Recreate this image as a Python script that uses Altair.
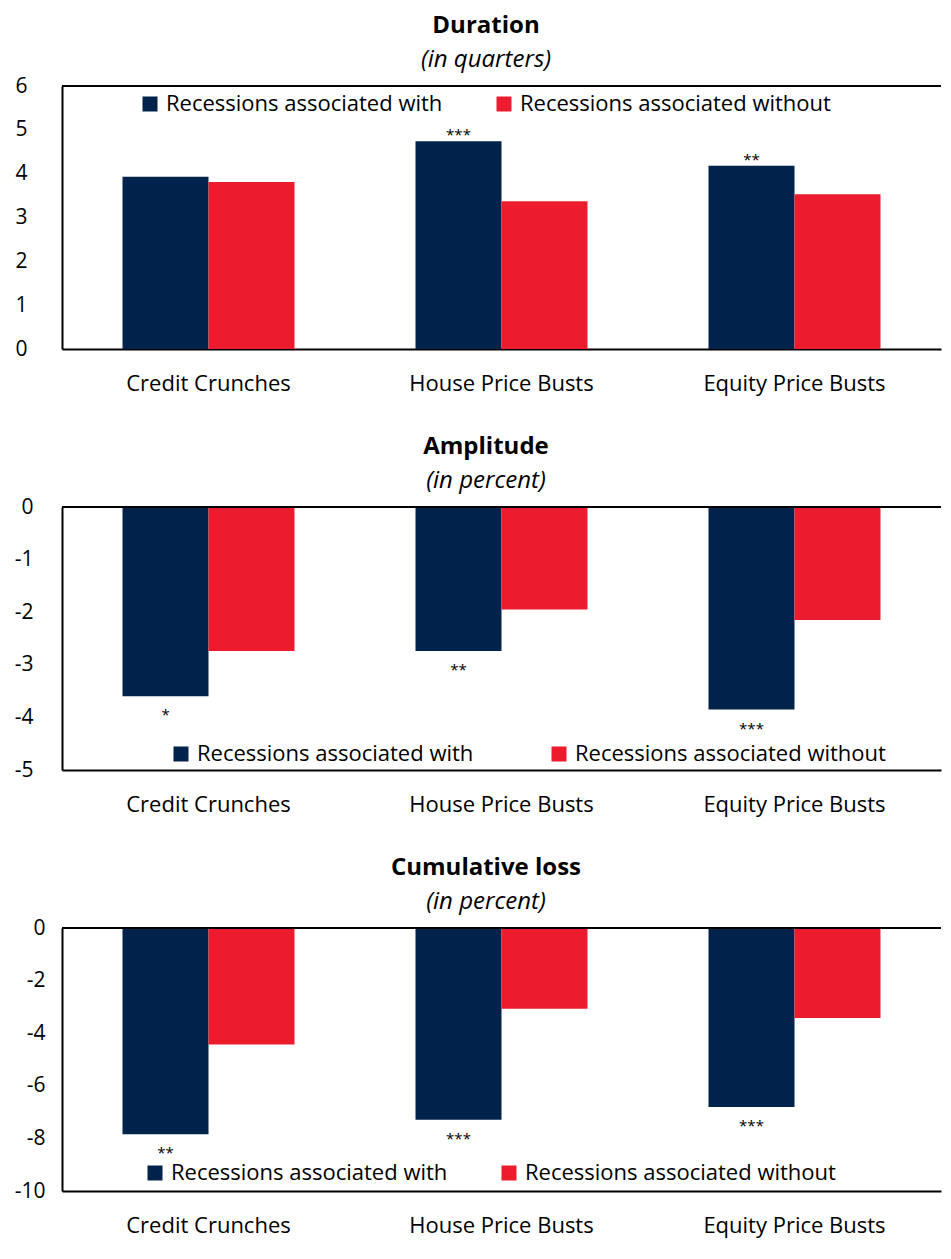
import altair as alt
import pandas as pd

FONT = "Open Sans"
NAVY = "#01224A"
RED = "#EC1C2E"

categories = ["Credit Crunches", "House Price Busts", "Equity Price Busts"]
series = ["Recessions associated with", "Recessions associated without"]

duration_with = [3.93, 4.74, 4.18]
duration_without = [3.81, 3.37, 3.53]
duration_stars = ["", "***", "**"]

amplitude_with = [-3.60, -2.74, -3.85]
amplitude_without = [-2.74, -1.95, -2.15]
amplitude_stars = ["*", "**", "***"]

cumloss_with = [-7.84, -7.29, -6.81]
cumloss_without = [-4.43, -3.07, -3.42]
cumloss_stars = ["**", "***", "***"]

duration_ticks = [0, 1, 2, 3, 4, 5, 6]
amplitude_ticks = [0, -1, -2, -3, -4, -5]
cumloss_ticks = [0, -2, -4, -6, -8, -10]

W = 879
H = 263
EXT = 54


def panel(title, subtitle, w_vals, wo_vals, stars, ydom, yticks, ylabpad,
          lx, ly, colpad, star_dy):
    df = pd.DataFrame({
        "category": categories * 2,
        "series": [series[0]] * 3 + [series[1]] * 3,
        "value": w_vals + wo_vals,
    })
    sdf = pd.DataFrame({
        "category": categories,
        "series": [series[0]] * 3,
        "value": w_vals,
        "stars": stars,
    })
    x = alt.X("category:N", sort=categories,
              scale=alt.Scale(paddingInner=0.413, paddingOuter=0.2065),
              axis=alt.Axis(title=None, labelAngle=0, ticks=False, domain=True,
                            domainColor="black", domainWidth=2, labelPadding=24,
                            labelFontSize=22, labelFont=FONT, labelColor="black",
                            labelLimit=0, grid=False))
    xo = alt.XOffset("series:N", sort=series,
                     scale=alt.Scale(paddingInner=0, paddingOuter=0))
    y = alt.Y("value:Q", scale=alt.Scale(domain=ydom, nice=False),
              axis=alt.Axis(title=None, values=yticks, ticks=False, grid=False,
                            domain=True, domainColor="black", domainWidth=2,
                            labelExpr="datum.value + ''",
                            labelPadding=ylabpad, labelFontSize=21, labelFont=FONT,
                            labelColor="black", minExtent=EXT, maxExtent=EXT))
    bars = alt.Chart(df).mark_bar().encode(
        x=x, xOffset=xo, y=y,
        color=alt.Color("series:N", sort=series,
                        scale=alt.Scale(domain=series, range=[NAVY, RED]),
                        legend=alt.Legend(orient="none", legendX=lx, legendY=ly,
                                          direction="horizontal", title=None,
                                          symbolType="square", symbolSize=225,
                                          symbolStrokeWidth=0, symbolOpacity=1,
                                          labelFontSize=22, labelFont=FONT,
                                          labelColor="black", columnPadding=colpad,
                                          labelOffset=5, padding=0, labelLimit=0)),
    )
    txt = alt.Chart(sdf).mark_text(fontSize=15, font=FONT, color="black",
                                   baseline="alphabetic", dy=star_dy).encode(
        x=alt.X("category:N", sort=categories), xOffset=alt.XOffset("series:N", sort=series),
        y="value:Q", text="stars:N")
    top = alt.Chart(pd.DataFrame({"k": [0]})).mark_rule(color="black", strokeWidth=2).encode(
        y=alt.datum(ydom[1]), x=alt.value(0), x2=alt.value(W))
    return alt.layer(bars, txt, top).properties(
        width=W, height=H,
        title=alt.TitleParams(text=title, subtitle=subtitle, fontSize=24, font=FONT,
                              fontWeight="bold", color="black", subtitleFont=FONT,
                              subtitleFontSize=24, subtitleFontStyle="italic",
                              subtitleColor="black", anchor="middle", frame="group",
                              dx=-15.5, offset=3, subtitlePadding=10))


p1 = panel("Duration", "(in quarters)", duration_with, duration_without, duration_stars,
           [0, 6], duration_ticks, 35, 77, 7, 50, -1)
p2 = panel("Amplitude", "(in percent)", amplitude_with, amplitude_without, amplitude_stars,
           [-5, 0], amplitude_ticks, 29, 108, 236, 74, 24)
p3 = panel("Cumulative loss", "(in percent)", cumloss_with, cumloss_without, cumloss_stars,
           [-10, 0], cumloss_ticks, 17, 82, 234, 50, 24)

chart = alt.concat(p1, p2, p3, columns=1, spacing=41).resolve_scale(
    color="independent"
).properties(
    padding={"top": 6, "bottom": 3, "left": 0, "right": 0}
).configure(background="white").configure_view(stroke=None)

chart.save("out.html", embed_options={"renderer": "svg", "actions": False})
